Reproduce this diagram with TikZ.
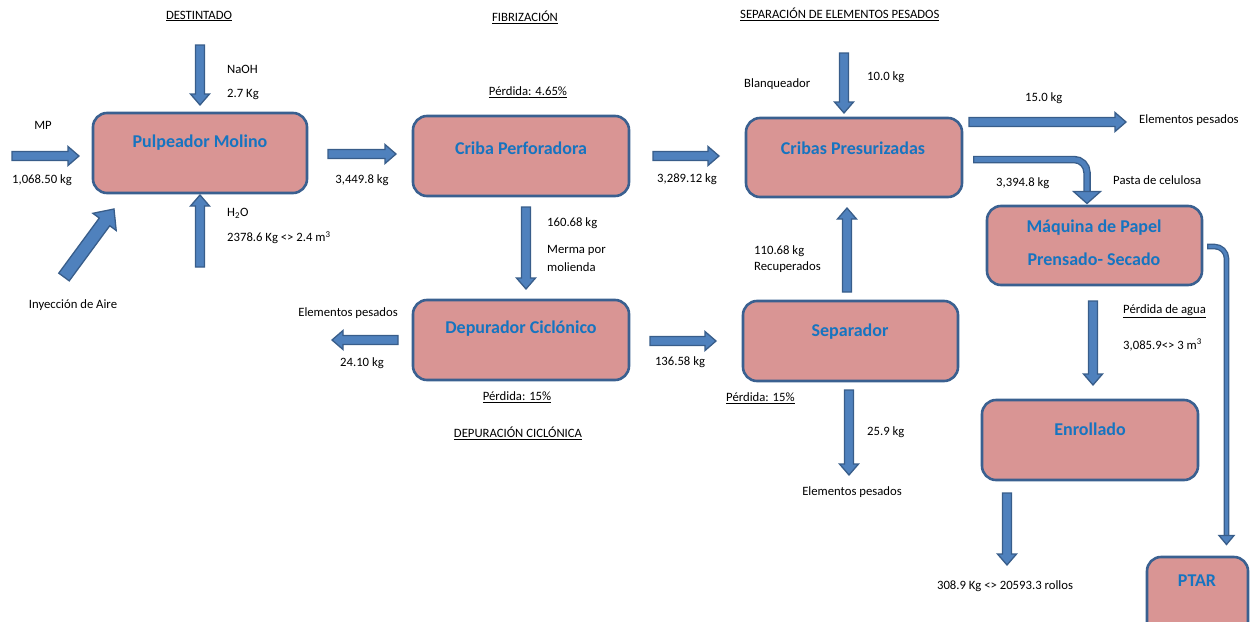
\documentclass[tikz,border=0pt]{standalone}
\usepackage{fontspec}
\setmainfont{Carlito}
\usetikzlibrary{calc}
\definecolor{bfill}{HTML}{D99594}
\definecolor{bborder}{HTML}{3A6090}
\definecolor{afill}{HTML}{4F81BD}
\definecolor{aborder}{HTML}{385D8A}
\definecolor{tblue}{HTML}{1674C0}
\newcommand\blkarrow[5]{%
  \coordinate (ba-m) at ($(#2)!#5pt!(#1)$);
  \filldraw[arrowsty] ($(#1)!#3pt!90:(#2)$) -- ($(ba-m)!#3pt!90:(#2)$) -- ($(ba-m)!#4pt!90:(#2)$) -- (#2) -- ($(ba-m)!#4pt!-90:(#2)$) -- ($(ba-m)!#3pt!-90:(#2)$) -- ($(#1)!#3pt!-90:(#2)$) -- cycle;
}
\begin{document}
\begin{tikzpicture}[x=1pt,y=-1pt,
  box/.style={rectangle, rounded corners=14pt, draw=bborder, line width=2.6pt, fill=bfill, inner sep=0pt},
  ttl/.style={font=\bfseries\fontsize{18}{20}\selectfont, text=tblue, inner sep=0pt},
  lbl/.style={font=\fontsize{12.7}{14}\selectfont, text=black, inner sep=0pt},
  arrowsty/.style={fill=afill, draw=aborder, line width=1.3pt, line join=miter},
]
\useasboundingbox (0,0) rectangle (1252,621);

% boxes
\node[box, minimum width=214, minimum height=80] (pm) at (200,153) {};
\node[box, minimum width=216, minimum height=80] (cp) at (521,156) {};
\node[box, minimum width=216, minimum height=79] (cpr) at (854,157.5) {};
\node[box, minimum width=215, minimum height=79] (mq) at (1094.5,245.5) {};
\node[box, minimum width=216, minimum height=80] (dc) at (521,340) {};
\node[box, minimum width=215, minimum height=80] (sep) at (850.5,341) {};
\node[box, minimum width=216, minimum height=80] (en) at (1090,440) {};
\node[box, minimum width=101, minimum height=80] (ptar) at (1197.5,597) {};

% titles
\node[ttl] (t-pm) at (200,143) {Pulpeador Molino};
\node[ttl] (t-cp) at (521,148) {Criba Perforadora};
\node[ttl] (t-cpr) at (853,148) {Cribas Presurizadas};
\node[ttl] (t-mq1) at (1094,228) {Máquina de Papel};
\node[ttl] (t-mq2) at (1094,259) {Prensado- Secado};
\node[ttl] (t-dc) at (521,329) {Depurador Ciclónico};
\node[ttl] (t-sep) at (850,332) {Separador};
\node[ttl] (t-en) at (1090,429) {Enrollado};
\node[ttl] (t-ptar) at (1197,581) {PTAR};

% arrow end points
\coordinate (mp-s) at (12,156);    \coordinate (mp-e) at (79,156);
\coordinate (na-s) at (200,45);    \coordinate (na-e) at (200,105);
\coordinate (h2-s) at (200,267);   \coordinate (h2-e) at (200,195);
\coordinate (ai-s) at (64,277);    \coordinate (ai-e) at (114,209);
\coordinate (a1-s) at (328,154);   \coordinate (a1-e) at (396,154);
\coordinate (a2-s) at (653,156);   \coordinate (a2-e) at (719,156);
\coordinate (a3-s) at (526,207);   \coordinate (a3-e) at (526,289);
\coordinate (a4-s) at (398,340);   \coordinate (a4-e) at (332,340);
\coordinate (a5-s) at (650,341);   \coordinate (a5-e) at (716,341);
\coordinate (a6-s) at (847,292);   \coordinate (a6-e) at (847,208);
\coordinate (bl-s) at (844,53);    \coordinate (bl-e) at (844,113);
\coordinate (a7-s) at (969,122);   \coordinate (a7-e) at (1126,122);
\coordinate (a8-s) at (1093,301);  \coordinate (a8-e) at (1093,385);
\coordinate (a9-s) at (849,390);   \coordinate (a9-e) at (849,475);
\coordinate (a10-s) at (1007,493); \coordinate (a10-e) at (1007,565);

\blkarrow{mp-s}{mp-e}{4.5}{9.5}{11}
\blkarrow{na-s}{na-e}{4.5}{9.5}{11}
\blkarrow{h2-s}{h2-e}{4.5}{9.5}{11}
\blkarrow{ai-s}{ai-e}{6.5}{14.5}{16}
\blkarrow{a1-s}{a1-e}{4.5}{9.5}{11}
\blkarrow{a2-s}{a2-e}{4.5}{9.5}{11}
\blkarrow{a3-s}{a3-e}{4.5}{9.5}{11}
\blkarrow{a4-s}{a4-e}{4.5}{9.5}{11}
\blkarrow{a5-s}{a5-e}{4.5}{9.5}{11}
\blkarrow{a6-s}{a6-e}{4.5}{9.5}{11}
\blkarrow{bl-s}{bl-e}{4.5}{9.5}{11}
\blkarrow{a7-s}{a7-e}{4.5}{9.5}{11}
\blkarrow{a8-s}{a8-e}{4.5}{9.5}{11}
\blkarrow{a9-s}{a9-e}{4.5}{9.5}{11}
\blkarrow{a10-s}{a10-e}{4.5}{9.5}{11}

% bent arrow: Cribas Presurizadas -> Maquina de Papel
\coordinate (cb-s) at (973,159.5);
\coordinate (cb-e) at (1087,193);
\coordinate (cb-t) at (1087,203.5);
\draw[aborder, line width=7.5pt, rounded corners=13pt] (cb-s) -| (cb-e);
\draw[afill, line width=4.8pt, rounded corners=13pt, shorten <=1.4pt] (cb-s) -| (cb-e);
\filldraw[arrowsty] ($(cb-e)+(-13.5,-1.5)$) -- ($(cb-e)+(13.5,-1.5)$) -- (cb-t) -- cycle;

% bent arrow: Maquina de Papel -> PTAR
\coordinate (pt-s) at (1207,246.5);
\coordinate (pt-e) at (1226.5,536.5);
\coordinate (pt-t) at (1226.5,544.5);
\draw[aborder, line width=5.6pt, rounded corners=12pt] (pt-s) -| (pt-e);
\draw[afill, line width=3pt, rounded corners=12pt, shorten <=1.3pt] (pt-s) -| (pt-e);
\filldraw[arrowsty] ($(pt-e)+(-7.5,-1)$) -- ($(pt-e)+(7.5,-1)$) -- (pt-t) -- cycle;

% headings and losses
\node[lbl] (h-des) at (199,16) {\underline{DESTINTADO}};
\node[lbl] (h-fib) at (525,17) {\underline{FIBRIZACIÓN}};
\node[lbl, anchor=west] (h-sep) at (740,14) {\underline{SEPARACIÓN DE ELEMENTOS PESADOS}};
\node[lbl] (h-dep) at (518,433) {\underline{DEPURACIÓN CICLÓNICA}};
\node[lbl] (p1) at (528,92) {\underline{Pérdida: 4.65\%}};
\node[lbl] (p2) at (517,397) {\underline{Pérdida: 15\%}};
\node[lbl, anchor=west] (p3) at (726,398) {\underline{Pérdida: 15\%}};
\node[lbl, anchor=west] (p4) at (1123,311) {\underline{Pérdida de agua}};

% labels
\node[lbl] (l-mp) at (43,125) {MP};
\node[lbl] (l-mpk) at (42,180) {1,068.50 kg};
\node[lbl, anchor=west] (l-na) at (227,69) {NaOH};
\node[lbl, anchor=west] (l-nak) at (227,94) {2.7 Kg};
\node[lbl, anchor=west] (l-h2) at (227,213) {H\textsubscript{2}O};
\node[lbl, anchor=west] (l-h2k) at (227,238) {2378.6 Kg <> 2.4 m\textsuperscript{3}};
\node[lbl] (l-ai) at (73,305) {Inyección de Aire};
\node[lbl] (l-a1) at (362,180) {3,449.8 kg};
\node[lbl] (l-a2) at (687,179) {3,289.12 kg};
\node[lbl, anchor=west] (l-a3) at (547,223) {160.68 kg};
\node[lbl, anchor=west] (l-a3b) at (547,250) {Merma por};
\node[lbl, anchor=west] (l-a3c) at (547,267) {molienda};
\node[lbl, anchor=east] (l-a4) at (398,313) {Elementos pesados};
\node[lbl] (l-a4k) at (362,363) {24.10 kg};
\node[lbl] (l-a5) at (680,362) {136.58 kg};
\node[lbl, anchor=west] (l-bl) at (744,84) {Blanqueador};
\node[lbl, anchor=west] (l-blk) at (867,77) {10.0 kg};
\node[lbl, anchor=west] (l-a6) at (754,251) {110.68 kg};
\node[lbl, anchor=west] (l-a6b) at (754,267) {Recuperados};
\node[lbl, anchor=west] (l-a7) at (1025,98) {15.0 kg};
\node[lbl, anchor=west] (l-a7b) at (1139,120) {Elementos pesados};
\node[lbl, anchor=west] (l-cb) at (996,183) {3,394.8 kg};
\node[lbl, anchor=west] (l-cbb) at (1113,180) {Pasta de celulosa};
\node[lbl, anchor=west] (l-a8) at (1123,345) {3,085.9<> 3 m\textsuperscript{3}};
\node[lbl, anchor=west] (l-a9) at (867,432) {25.9 kg};
\node[lbl] (l-a9b) at (852,492) {Elementos pesados};
\node[lbl] (l-a10) at (1005,586) {308.9 Kg <> 20593.3 rollos};
\end{tikzpicture}
\end{document}
